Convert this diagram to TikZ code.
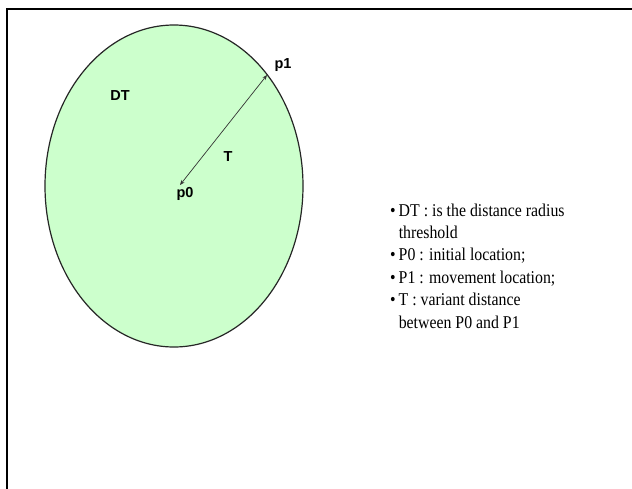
\documentclass[tikz,border=0pt]{standalone}
\usepackage{fontspec}
\setmainfont{Liberation Serif}
\newfontfamily\arialfont{Liberation Sans}
\newfontfamily\legendfont[FakeStretch=0.88]{Liberation Serif}
\usetikzlibrary{arrows.meta}
\definecolor{fillgreen}{HTML}{CCFFCC}
\tikzset{
  lbl/.style={font=\arialfont\bfseries\fontsize{14.5}{16}\selectfont, inner sep=0pt},
  radius line/.style={draw=black!80, line width=0.7pt, {Stealth[length=5pt,width=4pt]}-{Stealth[length=5pt,width=4pt]}},
}
\begin{document}
\begin{tikzpicture}[x=1pt,y=-1pt]
\useasboundingbox (0,0) rectangle (632,488);
\fill[white] (0,0) rectangle (632,488);
% frame
\draw[line width=2.5pt] (7,490) -- (7,9) -- (634,9);
% circle area
\draw[fill=fillgreen, draw=black!85, line width=1.2pt] (174,186) ellipse [x radius=129, y radius=161];
\coordinate (p0) at (180,185);
\coordinate (p1) at (267,75);
\draw[radius line] (p0) -- (p1);
\node[lbl] (lp1) at (283,65) {p1};
\node[lbl] (lp0) at (185,194) {p0};
\node[lbl] (lT) at (228,157) {T};
\node[lbl] (lDT) at (120,96) {DT};
% legend
\node[anchor=base west, align=left, inner sep=0pt, font=\legendfont\fontsize{18}{22.4}\selectfont] (legend) at (390,328)
{\textbullet\,DT : is the distance radius\\
 \phantom{\textbullet\,}threshold\\
 \textbullet\,P0 : initial location;\\
 \textbullet\,P1 : movement location;\\
 \textbullet\,T : variant distance\\
 \phantom{\textbullet\,}between P0 and P1};
\end{tikzpicture}
\end{document}
